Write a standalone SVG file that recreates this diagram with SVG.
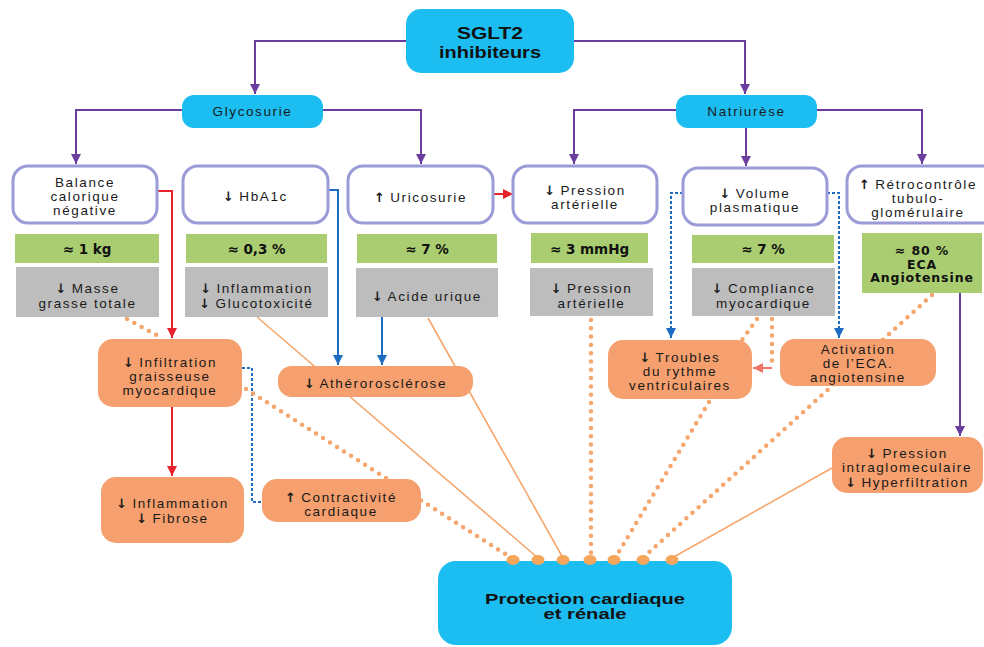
<svg xmlns="http://www.w3.org/2000/svg" width="984" height="647" viewBox="0 0 984 647">
<defs>
<style>
.t{font-family:"Liberation Sans",Arial,sans-serif;font-size:13.5px;letter-spacing:1.6px;fill:#1a1a1a;text-anchor:middle}
.ar{font-family:"DejaVu Sans",sans-serif;font-weight:bold;font-size:13px;letter-spacing:0}
.tb{font-family:"Liberation Sans",Arial,sans-serif;font-weight:bold;fill:#111;text-anchor:middle}
.g{font-family:"DejaVu Sans","Liberation Sans",sans-serif;font-weight:bold;font-size:13.5px;fill:#111;text-anchor:middle}
.g6{font-family:"DejaVu Sans","Liberation Sans",sans-serif;font-weight:bold;font-size:12.5px;letter-spacing:0.9px;fill:#111;text-anchor:middle}
.cyan{fill:#1cbdf0}
.white{fill:#fff;stroke:#9b9bd8;stroke-width:3}
.green{fill:#a9cd70}
.gray{fill:#bdbdbd}
.orange{fill:#f5a06e}
.pu{fill:none;stroke:#6a3d9e;stroke-width:2}
.rd{fill:none;stroke:#e8222b;stroke-width:2}
.bl{fill:none;stroke:#1f6dc2;stroke-width:2}
.bld{fill:none;stroke:#1f6dc2;stroke-width:2;stroke-dasharray:3 2}
.dot{fill:none;stroke:#f6a66c;stroke-width:4.5;stroke-linecap:round;stroke-dasharray:0 8.3}
.thin{fill:none;stroke:#f6a66c;stroke-width:1.6}
.sal{fill:none;stroke:#f07566;stroke-width:2}
.pd{fill:#f6a55c}
</style>
<marker id="ap" markerUnits="userSpaceOnUse" markerWidth="10" markerHeight="10" refX="10" refY="5" orient="auto"><path d="M0,0 L10,5 L0,10 z" fill="#6a3d9e"/></marker>
<marker id="ar" markerUnits="userSpaceOnUse" markerWidth="10" markerHeight="10" refX="10" refY="5" orient="auto"><path d="M0,0 L10,5 L0,10 z" fill="#e8222b"/></marker>
<marker id="ab" markerUnits="userSpaceOnUse" markerWidth="10" markerHeight="10" refX="10" refY="5" orient="auto"><path d="M0,0 L10,5 L0,10 z" fill="#1f6dc2"/></marker>
<marker id="as" markerUnits="userSpaceOnUse" markerWidth="10" markerHeight="10" refX="10" refY="5" orient="auto"><path d="M0,0 L10,5 L0,10 z" fill="#f07566"/></marker>
</defs>
<rect width="984" height="647" fill="#fff"/>

<g id="connectors">
<path class="pu" d="M406 41 H255 V94" marker-end="url(#ap)"/>
<path class="pu" d="M574 41 H745 V94" marker-end="url(#ap)"/>
<path class="pu" d="M182 110 H76 V164" marker-end="url(#ap)"/>
<path class="pu" d="M323 110 H421 V164" marker-end="url(#ap)"/>
<path class="pu" d="M676 110 H574 V164" marker-end="url(#ap)"/>
<path class="pu" d="M746 128 V166" marker-end="url(#ap)"/>
<path class="pu" d="M817 110 H922 V164" marker-end="url(#ap)"/>
<path class="pu" d="M960 293 V436" marker-end="url(#ap)"/>
<path class="rd" d="M157 191 H172 V338" marker-end="url(#ar)"/>
<path class="rd" d="M172 407 V476" marker-end="url(#ar)"/>
<path class="rd" d="M493 194 H513" marker-end="url(#ar)"/>
<path class="bl" d="M328 190 H338 V365" marker-end="url(#ab)"/>
<path class="bl" d="M382 317 V365" marker-end="url(#ab)"/>
<path class="bld" d="M683 193 H671 V338" marker-end="url(#ab)"/>
<path class="bld" d="M827 193 H839 V338" marker-end="url(#ab)"/>
<path class="bld" d="M242 368 H252 V502 H262"/>
<path class="dot" d="M127 319 L162 338"/>
<path class="dot" d="M246 389 L510 557"/>
<path class="dot" d="M757 319 L742 340"/>
<path class="dot" d="M772 319 L772 366"/>
<path class="sal" d="M772 368 H753" marker-end="url(#as)"/>
<path class="dot" d="M591 320 L591 554"/>
<path class="dot" d="M709 402 L617 555"/>
<path class="dot" d="M932 295 L646 555"/>
<path class="thin" d="M257 317 L538 558"/>
<path class="thin" d="M428 318 L563 558"/>
<path class="thin" d="M832 468 L672 558"/>
</g>

<g id="sglt2"><rect class="cyan" x="406" y="9" width="168" height="64" rx="15"/><text class="tb" font-size="17"><tspan x="490" y="39" textLength="66" lengthAdjust="spacingAndGlyphs">SGLT2</tspan><tspan x="490" y="58" textLength="102" lengthAdjust="spacingAndGlyphs">inhibiteurs</tspan></text></g>
<g id="glycosurie"><rect class="cyan" x="182" y="95" width="141" height="33" rx="12"/><text class="t" x="252.5" y="116">Glycosurie</text></g>
<g id="natriurese"><rect class="cyan" x="676" y="95" width="141" height="33" rx="12"/><text class="t" x="746.5" y="116">Natriurèse</text></g>

<g id="balance"><rect class="white" x="13" y="166" width="144" height="57" rx="15"/><text class="t"><tspan x="85" y="187">Balance</tspan><tspan x="85" y="201">calorique</tspan><tspan x="85" y="215">négative</tspan></text></g>
<g id="hba1c"><rect class="white" x="183" y="166" width="145" height="57" rx="15"/><text class="t" x="255.5" y="201"><tspan class="ar">↓</tspan> HbA1c</text></g>
<g id="uricosurie"><rect class="white" x="348" y="166" width="145" height="57" rx="15"/><text class="t" x="420.5" y="202"><tspan class="ar">↑</tspan>  Uricosurie</text></g>
<g id="pression"><rect class="white" x="513" y="166" width="144" height="57" rx="15"/><text class="t"><tspan x="585" y="195"><tspan class="ar">↓</tspan> Pression</tspan><tspan x="585" y="209">artérielle</tspan></text></g>
<g id="volume"><rect class="white" x="683" y="168" width="144" height="57" rx="15"/><text class="t"><tspan x="755" y="198"><tspan class="ar">↓</tspan> Volume</tspan><tspan x="755" y="212">plasmatique</tspan></text></g>
<g id="retro"><rect class="white" x="847" y="166" width="150" height="57" rx="15"/><text class="t"><tspan x="918" y="189"><tspan class="ar">↑</tspan> Rétrocontrôle</tspan><tspan x="918" y="203">tubulo-</tspan><tspan x="918" y="217">glomérulaire</tspan></text></g>

<g id="g1"><rect class="green" x="15" y="234" width="144" height="29"/><text class="g" x="87" y="254">≈ 1 kg</text></g>
<g id="g2"><rect class="green" x="186" y="234" width="141" height="29"/><text class="g" x="256.5" y="254">≈ 0,3 %</text></g>
<g id="g3"><rect class="green" x="357" y="234" width="140" height="29"/><text class="g" x="427" y="254">≈ 7 %</text></g>
<g id="g4"><rect class="green" x="531" y="233" width="117" height="30"/><text class="g" x="589.5" y="254">≈ 3 mmHg</text></g>
<g id="g5"><rect class="green" x="692" y="235" width="142" height="28"/><text class="g" x="763" y="254">≈ 7 %</text></g>
<g id="g6"><rect class="green" x="862" y="233" width="120" height="60"/><text class="g6"><tspan x="922" y="255">≈ 80 %</tspan><tspan x="922" y="268.5">ECA</tspan><tspan x="922" y="282">Angiotensine</tspan></text></g>

<g id="m1"><rect class="gray" x="16" y="267" width="143" height="50"/><text class="t"><tspan x="87.5" y="293"><tspan class="ar">↓</tspan> Masse</tspan><tspan x="87.5" y="308">grasse totale</tspan></text></g>
<g id="m2"><rect class="gray" x="185" y="267" width="143" height="50"/><text class="t"><tspan x="256.5" y="293"><tspan class="ar">↓</tspan> Inflammation</tspan><tspan x="256.5" y="308"><tspan class="ar">↓</tspan> Glucotoxicité</tspan></text></g>
<g id="m3"><rect class="gray" x="356" y="268" width="142" height="49"/><text class="t" x="427" y="301"><tspan class="ar">↓</tspan> Acide urique</text></g>
<g id="m4"><rect class="gray" x="530" y="268" width="123" height="48"/><text class="t"><tspan x="591.5" y="293"><tspan class="ar">↓</tspan> Pression</tspan><tspan x="591.5" y="308">artérielle</tspan></text></g>
<g id="m5"><rect class="gray" x="692" y="268" width="143" height="48"/><text class="t"><tspan x="763.5" y="293"><tspan class="ar">↓</tspan> Compliance</tspan><tspan x="763.5" y="308">myocardique</tspan></text></g>

<g id="infiltration"><rect class="orange" x="98" y="339" width="144" height="68" rx="15"/><text class="t"><tspan x="170" y="367"><tspan class="ar">↓</tspan> Infiltration</tspan><tspan x="170" y="381">graisseuse</tspan><tspan x="170" y="395">myocardique</tspan></text></g>
<g id="athero"><rect class="orange" x="278" y="366" width="195" height="31" rx="14"/><text class="t" x="375.5" y="388"><tspan class="ar">↓</tspan> Athérorosclérose</text></g>
<g id="inflammation"><rect class="orange" x="101" y="477" width="143" height="66" rx="15"/><text class="t"><tspan x="172.5" y="508"><tspan class="ar">↓</tspan> Inflammation</tspan><tspan x="172.5" y="523"><tspan class="ar">↓</tspan> Fibrose</tspan></text></g>
<g id="contractivite"><rect class="orange" x="262" y="479" width="159" height="43" rx="15"/><text class="t"><tspan x="341" y="502"><tspan class="ar">↑</tspan>  Contractivité</tspan><tspan x="341" y="516">cardiaque</tspan></text></g>
<g id="troubles"><rect class="orange" x="608" y="340" width="144" height="59" rx="15"/><text class="t"><tspan x="680" y="362"><tspan class="ar">↓</tspan> Troubles</tspan><tspan x="680" y="376">du rythme</tspan><tspan x="680" y="390">ventriculaires</tspan></text></g>
<g id="activation"><rect class="orange" x="780" y="339" width="156" height="47" rx="15"/><text class="t"><tspan x="858" y="354">Activation</tspan><tspan x="858" y="368">de l’ECA.</tspan><tspan x="858" y="382">angiotensine</tspan></text></g>
<g id="intraglom"><rect class="orange" x="832" y="437" width="151" height="56" rx="15"/><text class="t"><tspan x="907" y="457.5"><tspan class="ar">↓</tspan> Pression</tspan><tspan x="907" y="472">intraglomeculaire</tspan><tspan x="907" y="486.5"><tspan class="ar">↓</tspan> Hyperfiltration</tspan></text></g>

<g id="protection"><rect class="cyan" x="438" y="561" width="294" height="84" rx="18"/><text class="tb" font-size="14.5"><tspan x="585" y="603.5" textLength="200" lengthAdjust="spacingAndGlyphs">Protection cardiaque</tspan><tspan x="585" y="619" textLength="83" lengthAdjust="spacingAndGlyphs">et rénale</tspan></text>
<ellipse class="pd" cx="513" cy="560" rx="6.5" ry="5"/><ellipse class="pd" cx="538" cy="560" rx="6.5" ry="5"/><ellipse class="pd" cx="563" cy="560" rx="6.5" ry="5"/><ellipse class="pd" cx="590" cy="560" rx="6.5" ry="5"/><ellipse class="pd" cx="614" cy="560" rx="6.5" ry="5"/><ellipse class="pd" cx="643" cy="560" rx="6.5" ry="5"/><ellipse class="pd" cx="672" cy="560" rx="6.5" ry="5"/></g>
</svg>
